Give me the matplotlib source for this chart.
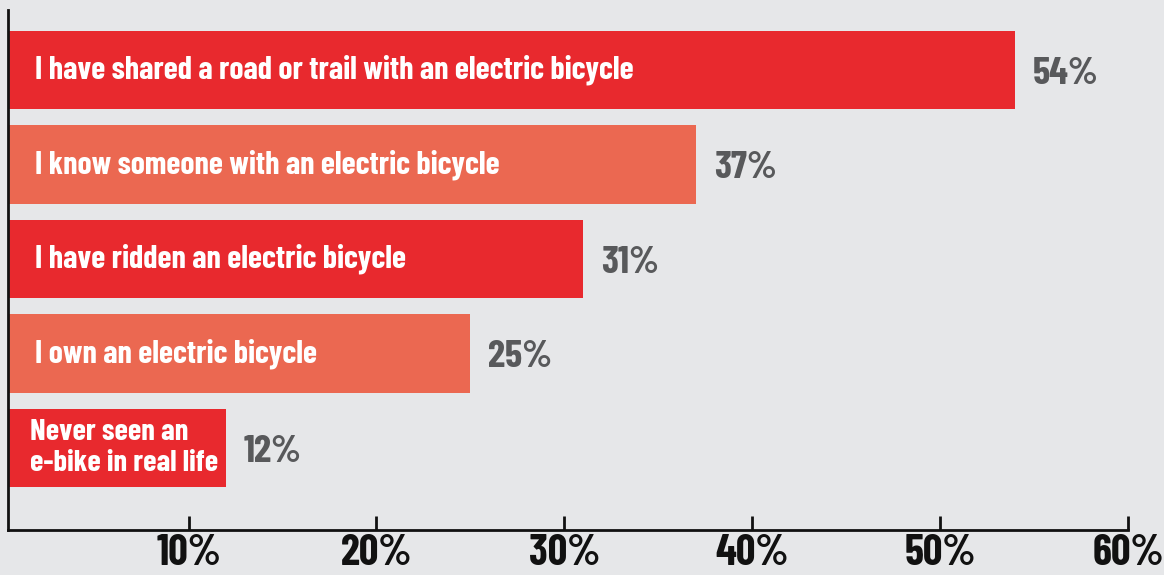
import matplotlib
matplotlib.use("Agg")
import matplotlib.pyplot as plt

categories = [
    "I have shared a road or trail with an electric bicycle",
    "I know someone with an electric bicycle",
    "I have ridden an electric bicycle",
    "I own an electric bicycle",
    "Never seen an\ne-bike in real life",
]
values = [54, 37, 31, 25, 12]
bar_colors = ["#e8292e", "#eb6851", "#e8292e", "#eb6851", "#e8292e"]
tick_values = [10, 20, 30, 40, 50, 60]
tick_labels = ["10%", "20%", "30%", "40%", "50%", "60%"]

FONT = ["Barlow Condensed", "DejaVu Sans"]

bg = "#e6e7e9"
fig = plt.figure(figsize=(11.64, 5.75), dpi=100, facecolor=bg)
ax = fig.add_axes([8 / 1164, 45 / 575, 1120 / 1164, 520 / 575])
ax.set_facecolor(bg)

ypos = list(range(len(values)))
ax.barh(ypos, values, height=0.83, color=bar_colors, left=0)
ax.set_ylim(4.868, -0.635)
ax.set_xlim(0.39, 60)

for y, v, c in zip(ypos, values, categories):
    multiline = "\n" in c
    ax.text(1.55 if multiline else 1.83, y, c, color="white",
            fontsize=22 if multiline else 23, fontweight="bold",
            family=FONT, va="center", ha="left", linespacing=1.2)
    ax.text(v + 0.95, y + 0.04, f"{v}%", color="#58595b", fontsize=28,
            fontweight="bold", family=FONT, va="center", ha="left")

for s in ["top", "right"]:
    ax.spines[s].set_visible(False)
for s in ["left", "bottom"]:
    ax.spines[s].set_linewidth(2)
    ax.spines[s].set_color("#111111")

ax.set_yticks([])
ax.set_xticks(tick_values)
ax.set_xticklabels(tick_labels, fontsize=31, fontweight="bold", family=FONT, color="#111111")
ax.tick_params(axis="x", direction="in", length=10, width=2, pad=3, color="#111111")

fig.savefig("out.png", dpi=100, facecolor=bg)
